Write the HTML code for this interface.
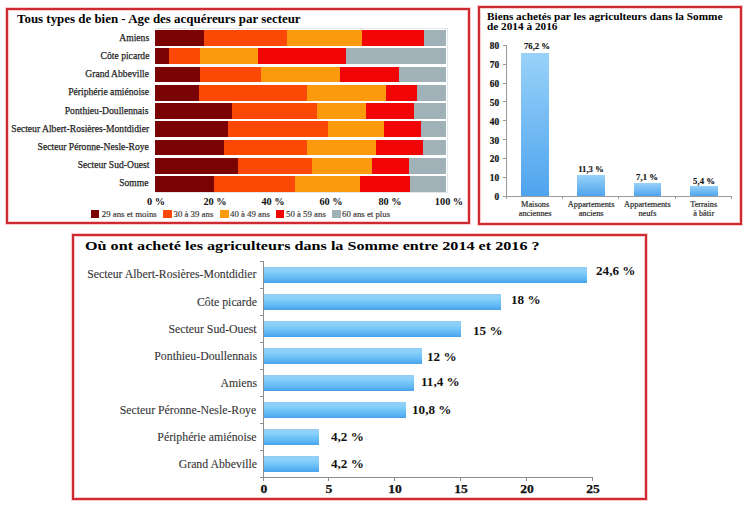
<!DOCTYPE html>
<html><head><meta charset="utf-8"><style>
html,body{margin:0;padding:0;background:#fff;}
body{width:747px;height:508px;position:relative;overflow:hidden;font-family:"Liberation Serif", serif;}
.ab{position:absolute;}
.box{position:absolute;border:2px solid #cf2a30;box-sizing:border-box;box-shadow:0 0 0 1px rgba(240,130,130,0.4), inset 0 0 0 1px rgba(240,130,130,0.4);}
.t{position:absolute;white-space:nowrap;line-height:1;}
.seg{position:absolute;}
</style></head><body>

<div class="box" style="left:6px;top:7.8px;width:464px;height:216.2px;"></div>
<div class="box" style="left:478px;top:6.2px;width:264px;height:218.9px;"></div>
<div class="box" style="left:72.4px;top:233.8px;width:574.3px;height:266.4px;"></div>
<div class="t" style="left:16.80px;top:11.71px;font-size:13px;font-weight:bold;color:#000;transform:scaleX(0.9937);transform-origin:left 0;">Tous types de bien - Age des acquéreurs par secteur</div>
<div class="ab" style="left:155px;top:28.3px;width:293px;height:165px;border:1px solid #e2e8ea;border-left:none;box-sizing:border-box;"></div>
<div class="seg" style="left:155.20px;top:30.20px;width:290.40px;height:15.8px;background:#7a0303;"></div>
<div class="seg" style="left:204.20px;top:30.20px;width:241.40px;height:15.8px;background:#fc4805;"></div>
<div class="seg" style="left:287.10px;top:30.20px;width:158.50px;height:15.8px;background:#fb9a0c;"></div>
<div class="seg" style="left:362.20px;top:30.20px;width:83.40px;height:15.8px;background:#f20505;"></div>
<div class="seg" style="left:423.90px;top:30.20px;width:21.70px;height:15.8px;background:#a0b2b8;"></div>
<div class="t" style="right:598.00px;top:31.64px;font-size:11.3px;font-weight:normal;color:#222;transform:scaleX(0.8500);transform-origin:right 0;-webkit-text-stroke:0.25px #222;">Amiens</div>
<div class="seg" style="left:155.20px;top:48.43px;width:290.40px;height:15.8px;background:#7a0303;"></div>
<div class="seg" style="left:168.70px;top:48.43px;width:276.90px;height:15.8px;background:#fc4805;"></div>
<div class="seg" style="left:200.20px;top:48.43px;width:245.40px;height:15.8px;background:#fb9a0c;"></div>
<div class="seg" style="left:258.00px;top:48.43px;width:187.60px;height:15.8px;background:#f20505;"></div>
<div class="seg" style="left:346.20px;top:48.43px;width:99.40px;height:15.8px;background:#a0b2b8;"></div>
<div class="t" style="right:598.00px;top:49.87px;font-size:11.3px;font-weight:normal;color:#222;transform:scaleX(0.8500);transform-origin:right 0;-webkit-text-stroke:0.25px #222;">Côte picarde</div>
<div class="seg" style="left:155.20px;top:66.66px;width:290.40px;height:15.8px;background:#7a0303;"></div>
<div class="seg" style="left:199.80px;top:66.66px;width:245.80px;height:15.8px;background:#fc4805;"></div>
<div class="seg" style="left:261.00px;top:66.66px;width:184.60px;height:15.8px;background:#fb9a0c;"></div>
<div class="seg" style="left:339.60px;top:66.66px;width:106.00px;height:15.8px;background:#f20505;"></div>
<div class="seg" style="left:399.00px;top:66.66px;width:46.60px;height:15.8px;background:#a0b2b8;"></div>
<div class="t" style="right:598.00px;top:68.10px;font-size:11.3px;font-weight:normal;color:#222;transform:scaleX(0.8500);transform-origin:right 0;-webkit-text-stroke:0.25px #222;">Grand Abbeville</div>
<div class="seg" style="left:155.20px;top:84.89px;width:290.40px;height:15.8px;background:#7a0303;"></div>
<div class="seg" style="left:198.60px;top:84.89px;width:247.00px;height:15.8px;background:#fc4805;"></div>
<div class="seg" style="left:307.00px;top:84.89px;width:138.60px;height:15.8px;background:#fb9a0c;"></div>
<div class="seg" style="left:386.30px;top:84.89px;width:59.30px;height:15.8px;background:#f20505;"></div>
<div class="seg" style="left:416.50px;top:84.89px;width:29.10px;height:15.8px;background:#a0b2b8;"></div>
<div class="t" style="right:598.00px;top:86.33px;font-size:11.3px;font-weight:normal;color:#222;transform:scaleX(0.8500);transform-origin:right 0;-webkit-text-stroke:0.25px #222;">Périphérie amiénoise</div>
<div class="seg" style="left:155.20px;top:103.12px;width:290.40px;height:15.8px;background:#7a0303;"></div>
<div class="seg" style="left:231.50px;top:103.12px;width:214.10px;height:15.8px;background:#fc4805;"></div>
<div class="seg" style="left:317.00px;top:103.12px;width:128.60px;height:15.8px;background:#fb9a0c;"></div>
<div class="seg" style="left:366.00px;top:103.12px;width:79.60px;height:15.8px;background:#f20505;"></div>
<div class="seg" style="left:414.30px;top:103.12px;width:31.30px;height:15.8px;background:#a0b2b8;"></div>
<div class="t" style="right:598.00px;top:104.56px;font-size:11.3px;font-weight:normal;color:#222;transform:scaleX(0.8500);transform-origin:right 0;-webkit-text-stroke:0.25px #222;">Ponthieu-Doullennais</div>
<div class="seg" style="left:155.20px;top:121.35px;width:290.40px;height:15.8px;background:#7a0303;"></div>
<div class="seg" style="left:227.90px;top:121.35px;width:217.70px;height:15.8px;background:#fc4805;"></div>
<div class="seg" style="left:328.10px;top:121.35px;width:117.50px;height:15.8px;background:#fb9a0c;"></div>
<div class="seg" style="left:383.90px;top:121.35px;width:61.70px;height:15.8px;background:#f20505;"></div>
<div class="seg" style="left:420.90px;top:121.35px;width:24.70px;height:15.8px;background:#a0b2b8;"></div>
<div class="t" style="right:598.00px;top:122.79px;font-size:11.3px;font-weight:normal;color:#222;transform:scaleX(0.8500);transform-origin:right 0;-webkit-text-stroke:0.25px #222;">Secteur Albert-Rosières-Montdidier</div>
<div class="seg" style="left:155.20px;top:139.58px;width:290.40px;height:15.8px;background:#7a0303;"></div>
<div class="seg" style="left:223.90px;top:139.58px;width:221.70px;height:15.8px;background:#fc4805;"></div>
<div class="seg" style="left:307.00px;top:139.58px;width:138.60px;height:15.8px;background:#fb9a0c;"></div>
<div class="seg" style="left:376.30px;top:139.58px;width:69.30px;height:15.8px;background:#f20505;"></div>
<div class="seg" style="left:422.50px;top:139.58px;width:23.10px;height:15.8px;background:#a0b2b8;"></div>
<div class="t" style="right:598.00px;top:141.02px;font-size:11.3px;font-weight:normal;color:#222;transform:scaleX(0.8500);transform-origin:right 0;-webkit-text-stroke:0.25px #222;">Secteur Péronne-Nesle-Roye</div>
<div class="seg" style="left:155.20px;top:157.81px;width:290.40px;height:15.8px;background:#7a0303;"></div>
<div class="seg" style="left:238.40px;top:157.81px;width:207.20px;height:15.8px;background:#fc4805;"></div>
<div class="seg" style="left:311.60px;top:157.81px;width:134.00px;height:15.8px;background:#fb9a0c;"></div>
<div class="seg" style="left:372.30px;top:157.81px;width:73.30px;height:15.8px;background:#f20505;"></div>
<div class="seg" style="left:409.40px;top:157.81px;width:36.20px;height:15.8px;background:#a0b2b8;"></div>
<div class="t" style="right:598.00px;top:159.25px;font-size:11.3px;font-weight:normal;color:#222;transform:scaleX(0.8500);transform-origin:right 0;-webkit-text-stroke:0.25px #222;">Secteur Sud-Ouest</div>
<div class="seg" style="left:155.20px;top:176.04px;width:290.40px;height:15.8px;background:#7a0303;"></div>
<div class="seg" style="left:213.90px;top:176.04px;width:231.70px;height:15.8px;background:#fc4805;"></div>
<div class="seg" style="left:295.00px;top:176.04px;width:150.60px;height:15.8px;background:#fb9a0c;"></div>
<div class="seg" style="left:359.60px;top:176.04px;width:86.00px;height:15.8px;background:#f20505;"></div>
<div class="seg" style="left:410.00px;top:176.04px;width:35.60px;height:15.8px;background:#a0b2b8;"></div>
<div class="t" style="right:598.00px;top:177.48px;font-size:11.3px;font-weight:normal;color:#222;transform:scaleX(0.8500);transform-origin:right 0;-webkit-text-stroke:0.25px #222;">Somme</div>
<div class="t" style="left:56.20px;width:200px;text-align:center;top:195.82px;font-size:11.2px;font-weight:bold;color:#111;transform:scaleX(0.9200);transform-origin:center 0;">0 %</div>
<div class="t" style="left:115.00px;width:200px;text-align:center;top:195.82px;font-size:11.2px;font-weight:bold;color:#111;transform:scaleX(0.9200);transform-origin:center 0;">20 %</div>
<div class="t" style="left:172.55px;width:200px;text-align:center;top:195.82px;font-size:11.2px;font-weight:bold;color:#111;transform:scaleX(0.9200);transform-origin:center 0;">40 %</div>
<div class="t" style="left:231.25px;width:200px;text-align:center;top:195.82px;font-size:11.2px;font-weight:bold;color:#111;transform:scaleX(0.9200);transform-origin:center 0;">60 %</div>
<div class="t" style="left:289.75px;width:200px;text-align:center;top:195.82px;font-size:11.2px;font-weight:bold;color:#111;transform:scaleX(0.9200);transform-origin:center 0;">80 %</div>
<div class="t" style="left:348.90px;width:200px;text-align:center;top:195.82px;font-size:11.2px;font-weight:bold;color:#111;transform:scaleX(0.9200);transform-origin:center 0;">100 %</div>
<div class="seg" style="left:90.6px;top:209.8px;width:8.3px;height:8.3px;background:#7a0303;"></div>
<div class="t" style="left:101.80px;top:209.63px;font-size:8.8px;font-weight:normal;color:#333;-webkit-text-stroke:0.15px #333;">29 ans et moins</div>
<div class="seg" style="left:163.3px;top:209.8px;width:8.3px;height:8.3px;background:#fc4805;"></div>
<div class="t" style="left:173.50px;top:209.63px;font-size:8.8px;font-weight:normal;color:#333;-webkit-text-stroke:0.15px #333;">30 à 39 ans</div>
<div class="seg" style="left:220.3px;top:209.8px;width:8.3px;height:8.3px;background:#fb9a0c;"></div>
<div class="t" style="left:230.00px;top:209.63px;font-size:8.8px;font-weight:normal;color:#333;-webkit-text-stroke:0.15px #333;">40 à 49 ans</div>
<div class="seg" style="left:276.0px;top:209.8px;width:8.3px;height:8.3px;background:#f20505;"></div>
<div class="t" style="left:286.00px;top:209.63px;font-size:8.8px;font-weight:normal;color:#333;-webkit-text-stroke:0.15px #333;">50 à 59 ans</div>
<div class="seg" style="left:332.3px;top:209.8px;width:8.3px;height:8.3px;background:#a0b2b8;"></div>
<div class="t" style="left:342.00px;top:209.63px;font-size:8.8px;font-weight:normal;color:#333;-webkit-text-stroke:0.15px #333;">60 ans et plus</div>
<div class="t" style="left:487.30px;top:11.91px;font-size:10.5px;font-weight:bold;color:#000;transform:scaleX(1.0730);transform-origin:left 0;">Biens achetés par les agriculteurs dans la Somme</div>
<div class="t" style="left:487.30px;top:22.21px;font-size:10.5px;font-weight:bold;color:#000;transform:scaleX(1.0730);transform-origin:left 0;">de 2014 à 2016</div>
<div class="ab" style="left:506px;top:45.32px;width:1px;height:150.88px;background:#9a9a9a;"></div>
<div class="ab" style="left:503px;top:195.70px;width:3.5px;height:1px;background:#9a9a9a;"></div>
<div class="t" style="right:247.80px;top:193.13px;font-size:9.4px;font-weight:bold;color:#111;-webkit-text-stroke:0.2px #111;">0</div>
<div class="ab" style="left:503px;top:176.84px;width:3.5px;height:1px;background:#9a9a9a;"></div>
<div class="t" style="right:247.80px;top:174.27px;font-size:9.4px;font-weight:bold;color:#111;-webkit-text-stroke:0.2px #111;">10</div>
<div class="ab" style="left:503px;top:157.98px;width:3.5px;height:1px;background:#9a9a9a;"></div>
<div class="t" style="right:247.80px;top:155.41px;font-size:9.4px;font-weight:bold;color:#111;-webkit-text-stroke:0.2px #111;">20</div>
<div class="ab" style="left:503px;top:139.12px;width:3.5px;height:1px;background:#9a9a9a;"></div>
<div class="t" style="right:247.80px;top:136.55px;font-size:9.4px;font-weight:bold;color:#111;-webkit-text-stroke:0.2px #111;">30</div>
<div class="ab" style="left:503px;top:120.26px;width:3.5px;height:1px;background:#9a9a9a;"></div>
<div class="t" style="right:247.80px;top:117.69px;font-size:9.4px;font-weight:bold;color:#111;-webkit-text-stroke:0.2px #111;">40</div>
<div class="ab" style="left:503px;top:101.40px;width:3.5px;height:1px;background:#9a9a9a;"></div>
<div class="t" style="right:247.80px;top:98.83px;font-size:9.4px;font-weight:bold;color:#111;-webkit-text-stroke:0.2px #111;">50</div>
<div class="ab" style="left:503px;top:82.54px;width:3.5px;height:1px;background:#9a9a9a;"></div>
<div class="t" style="right:247.80px;top:79.97px;font-size:9.4px;font-weight:bold;color:#111;-webkit-text-stroke:0.2px #111;">60</div>
<div class="ab" style="left:503px;top:63.68px;width:3.5px;height:1px;background:#9a9a9a;"></div>
<div class="t" style="right:247.80px;top:61.11px;font-size:9.4px;font-weight:bold;color:#111;-webkit-text-stroke:0.2px #111;">70</div>
<div class="ab" style="left:503px;top:44.82px;width:3.5px;height:1px;background:#9a9a9a;"></div>
<div class="t" style="right:247.80px;top:42.25px;font-size:9.4px;font-weight:bold;color:#111;-webkit-text-stroke:0.2px #111;">80</div>
<div class="ab" style="left:504.5px;top:195.7px;width:227px;height:1px;background:#9a9a9a;"></div>
<div class="ab" style="left:506.00px;top:196.2px;width:1px;height:3px;background:#9a9a9a;"></div>
<div class="ab" style="left:562.10px;top:196.2px;width:1px;height:3px;background:#9a9a9a;"></div>
<div class="ab" style="left:618.30px;top:196.2px;width:1px;height:3px;background:#9a9a9a;"></div>
<div class="ab" style="left:674.50px;top:196.2px;width:1px;height:3px;background:#9a9a9a;"></div>
<div class="ab" style="left:730.70px;top:196.2px;width:1px;height:3px;background:#9a9a9a;"></div>
<div class="ab" style="left:521.3px;top:52.94px;width:27.60px;height:143.26px;background:linear-gradient(#98d2f9,#4fa4ee);"></div>
<div class="t" style="left:436.95px;width:200px;text-align:center;top:41.96px;font-size:9.0px;font-weight:bold;color:#111;transform:scaleX(0.9700);transform-origin:center 0;-webkit-text-stroke:0.15px #111;">76,2 %</div>
<div class="t" style="left:435.10px;width:200px;text-align:center;top:200.55px;font-size:8.3px;font-weight:normal;color:#2a2a2a;-webkit-text-stroke:0.2px #2a2a2a;">Maisons</div>
<div class="t" style="left:435.10px;width:200px;text-align:center;top:209.55px;font-size:8.3px;font-weight:normal;color:#2a2a2a;-webkit-text-stroke:0.2px #2a2a2a;">anciennes</div>
<div class="ab" style="left:577.2px;top:174.96px;width:27.90px;height:21.24px;background:linear-gradient(#98d2f9,#4fa4ee);"></div>
<div class="t" style="left:490.70px;width:200px;text-align:center;top:165.46px;font-size:9.0px;font-weight:bold;color:#111;transform:scaleX(0.9700);transform-origin:center 0;-webkit-text-stroke:0.15px #111;">11,3 %</div>
<div class="t" style="left:491.15px;width:200px;text-align:center;top:200.55px;font-size:8.3px;font-weight:normal;color:#2a2a2a;-webkit-text-stroke:0.2px #2a2a2a;">Appartements</div>
<div class="t" style="left:491.15px;width:200px;text-align:center;top:209.55px;font-size:8.3px;font-weight:normal;color:#2a2a2a;-webkit-text-stroke:0.2px #2a2a2a;">anciens</div>
<div class="ab" style="left:633.5px;top:182.85px;width:27.80px;height:13.35px;background:linear-gradient(#98d2f9,#4fa4ee);"></div>
<div class="t" style="left:546.50px;width:200px;text-align:center;top:172.56px;font-size:9.0px;font-weight:bold;color:#111;transform:scaleX(0.9700);transform-origin:center 0;-webkit-text-stroke:0.15px #111;">7,1 %</div>
<div class="t" style="left:547.40px;width:200px;text-align:center;top:200.55px;font-size:8.3px;font-weight:normal;color:#2a2a2a;-webkit-text-stroke:0.2px #2a2a2a;">Appartements</div>
<div class="t" style="left:547.40px;width:200px;text-align:center;top:209.55px;font-size:8.3px;font-weight:normal;color:#2a2a2a;-webkit-text-stroke:0.2px #2a2a2a;">neufs</div>
<div class="ab" style="left:689.8px;top:186.05px;width:27.80px;height:10.15px;background:linear-gradient(#98d2f9,#4fa4ee);"></div>
<div class="t" style="left:603.50px;width:200px;text-align:center;top:176.86px;font-size:9.0px;font-weight:bold;color:#111;transform:scaleX(0.9700);transform-origin:center 0;-webkit-text-stroke:0.15px #111;">5,4 %</div>
<div class="t" style="left:603.70px;width:200px;text-align:center;top:200.55px;font-size:8.3px;font-weight:normal;color:#2a2a2a;-webkit-text-stroke:0.2px #2a2a2a;">Terrains</div>
<div class="t" style="left:603.70px;width:200px;text-align:center;top:209.55px;font-size:8.3px;font-weight:normal;color:#2a2a2a;-webkit-text-stroke:0.2px #2a2a2a;">à bâtir</div>
<div class="t" style="left:85.40px;top:239.60px;font-size:12.9px;font-weight:bold;color:#000;transform:scaleX(1.2531);transform-origin:left 0;">Où ont acheté les agriculteurs dans la Somme entre 2014 et 2016 ?</div>
<div class="ab" style="left:262.5px;top:261px;width:1px;height:217.00px;background:#8c8c8c;"></div>
<div class="ab" style="left:262.5px;top:477.0px;width:330.50px;height:1px;background:#8c8c8c;"></div>
<div class="ab" style="left:259.80px;top:260.70px;width:3px;height:1px;background:#8c8c8c;"></div>
<div class="ab" style="left:259.80px;top:287.77px;width:3px;height:1px;background:#8c8c8c;"></div>
<div class="ab" style="left:259.80px;top:314.84px;width:3px;height:1px;background:#8c8c8c;"></div>
<div class="ab" style="left:259.80px;top:341.91px;width:3px;height:1px;background:#8c8c8c;"></div>
<div class="ab" style="left:259.80px;top:368.98px;width:3px;height:1px;background:#8c8c8c;"></div>
<div class="ab" style="left:259.80px;top:396.05px;width:3px;height:1px;background:#8c8c8c;"></div>
<div class="ab" style="left:259.80px;top:423.12px;width:3px;height:1px;background:#8c8c8c;"></div>
<div class="ab" style="left:259.80px;top:450.19px;width:3px;height:1px;background:#8c8c8c;"></div>
<div class="ab" style="left:259.80px;top:477.26px;width:3px;height:1px;background:#8c8c8c;"></div>
<div class="ab" style="left:262.50px;top:477.5px;width:1px;height:3.5px;background:#8c8c8c;"></div>
<div class="t" style="left:163.50px;width:200px;text-align:center;top:483.31px;font-size:12.4px;font-weight:bold;color:#111;transform:scaleX(1.1000);transform-origin:center 0;-webkit-text-stroke:0.25px #111;">0</div>
<div class="ab" style="left:328.35px;top:477.5px;width:1px;height:3.5px;background:#8c8c8c;"></div>
<div class="t" style="left:229.35px;width:200px;text-align:center;top:483.31px;font-size:12.4px;font-weight:bold;color:#111;transform:scaleX(1.1000);transform-origin:center 0;-webkit-text-stroke:0.25px #111;">5</div>
<div class="ab" style="left:394.20px;top:477.5px;width:1px;height:3.5px;background:#8c8c8c;"></div>
<div class="t" style="left:295.20px;width:200px;text-align:center;top:483.31px;font-size:12.4px;font-weight:bold;color:#111;transform:scaleX(1.1000);transform-origin:center 0;-webkit-text-stroke:0.25px #111;">10</div>
<div class="ab" style="left:460.05px;top:477.5px;width:1px;height:3.5px;background:#8c8c8c;"></div>
<div class="t" style="left:361.05px;width:200px;text-align:center;top:483.31px;font-size:12.4px;font-weight:bold;color:#111;transform:scaleX(1.1000);transform-origin:center 0;-webkit-text-stroke:0.25px #111;">15</div>
<div class="ab" style="left:525.90px;top:477.5px;width:1px;height:3.5px;background:#8c8c8c;"></div>
<div class="t" style="left:426.90px;width:200px;text-align:center;top:483.31px;font-size:12.4px;font-weight:bold;color:#111;transform:scaleX(1.1000);transform-origin:center 0;-webkit-text-stroke:0.25px #111;">20</div>
<div class="ab" style="left:591.75px;top:477.5px;width:1px;height:3.5px;background:#8c8c8c;"></div>
<div class="t" style="left:492.75px;width:200px;text-align:center;top:483.31px;font-size:12.4px;font-weight:bold;color:#111;transform:scaleX(1.1000);transform-origin:center 0;-webkit-text-stroke:0.25px #111;">25</div>
<div class="ab" style="left:263.50px;top:267.00px;width:323.98px;height:15.5px;background:linear-gradient(#94cdf3,#8ad2fb 25%,#64bbf5 68%,#48a2ec);"></div>
<div class="t" style="right:490.30px;top:269.44px;font-size:11.6px;font-weight:normal;color:#333;transform:scaleX(1.0170);transform-origin:right 0;-webkit-text-stroke:0.1px #333;">Secteur Albert-Rosières-Montdidier</div>
<div class="t" style="left:596.20px;top:264.51px;font-size:12.4px;font-weight:bold;color:#111;transform:scaleX(1.0600);transform-origin:left 0;">24,6 %</div>
<div class="ab" style="left:263.50px;top:294.07px;width:237.06px;height:15.5px;background:linear-gradient(#94cdf3,#8ad2fb 25%,#64bbf5 68%,#48a2ec);"></div>
<div class="t" style="right:490.30px;top:296.50px;font-size:11.6px;font-weight:normal;color:#333;transform:scaleX(1.0170);transform-origin:right 0;-webkit-text-stroke:0.1px #333;">Côte picarde</div>
<div class="t" style="left:510.60px;top:294.31px;font-size:12.4px;font-weight:bold;color:#111;transform:scaleX(1.0600);transform-origin:left 0;">18 %</div>
<div class="ab" style="left:263.50px;top:321.14px;width:197.55px;height:15.5px;background:linear-gradient(#94cdf3,#8ad2fb 25%,#64bbf5 68%,#48a2ec);"></div>
<div class="t" style="right:490.30px;top:323.57px;font-size:11.6px;font-weight:normal;color:#333;transform:scaleX(1.0170);transform-origin:right 0;-webkit-text-stroke:0.1px #333;">Secteur Sud-Ouest</div>
<div class="t" style="left:473.10px;top:324.92px;font-size:12.4px;font-weight:bold;color:#111;transform:scaleX(1.0600);transform-origin:left 0;">15 %</div>
<div class="ab" style="left:263.50px;top:348.21px;width:158.04px;height:15.5px;background:linear-gradient(#94cdf3,#8ad2fb 25%,#64bbf5 68%,#48a2ec);"></div>
<div class="t" style="right:490.30px;top:350.65px;font-size:11.6px;font-weight:normal;color:#333;transform:scaleX(1.0170);transform-origin:right 0;-webkit-text-stroke:0.1px #333;">Ponthieu-Doullennais</div>
<div class="t" style="left:427.00px;top:350.62px;font-size:12.4px;font-weight:bold;color:#111;transform:scaleX(1.0600);transform-origin:left 0;">12 %</div>
<div class="ab" style="left:263.50px;top:375.28px;width:150.14px;height:15.5px;background:linear-gradient(#94cdf3,#8ad2fb 25%,#64bbf5 68%,#48a2ec);"></div>
<div class="t" style="right:490.30px;top:377.71px;font-size:11.6px;font-weight:normal;color:#333;transform:scaleX(1.0170);transform-origin:right 0;-webkit-text-stroke:0.1px #333;">Amiens</div>
<div class="t" style="left:421.40px;top:376.31px;font-size:12.4px;font-weight:bold;color:#111;transform:scaleX(1.0600);transform-origin:left 0;">11,4 %</div>
<div class="ab" style="left:263.50px;top:402.35px;width:142.24px;height:15.5px;background:linear-gradient(#94cdf3,#8ad2fb 25%,#64bbf5 68%,#48a2ec);"></div>
<div class="t" style="right:490.30px;top:404.79px;font-size:11.6px;font-weight:normal;color:#333;transform:scaleX(1.0170);transform-origin:right 0;-webkit-text-stroke:0.1px #333;">Secteur Péronne-Nesle-Roye</div>
<div class="t" style="left:412.00px;top:403.92px;font-size:12.4px;font-weight:bold;color:#111;transform:scaleX(1.0600);transform-origin:left 0;">10,8 %</div>
<div class="ab" style="left:263.50px;top:429.42px;width:55.31px;height:15.5px;background:linear-gradient(#94cdf3,#8ad2fb 25%,#64bbf5 68%,#48a2ec);"></div>
<div class="t" style="right:490.30px;top:431.86px;font-size:11.6px;font-weight:normal;color:#333;transform:scaleX(1.0170);transform-origin:right 0;-webkit-text-stroke:0.1px #333;">Périphérie amiénoise</div>
<div class="t" style="left:330.60px;top:430.81px;font-size:12.4px;font-weight:bold;color:#111;transform:scaleX(1.0600);transform-origin:left 0;">4,2 %</div>
<div class="ab" style="left:263.50px;top:456.49px;width:55.31px;height:15.5px;background:linear-gradient(#94cdf3,#8ad2fb 25%,#64bbf5 68%,#48a2ec);"></div>
<div class="t" style="right:490.30px;top:458.93px;font-size:11.6px;font-weight:normal;color:#333;transform:scaleX(1.0170);transform-origin:right 0;-webkit-text-stroke:0.1px #333;">Grand Abbeville</div>
<div class="t" style="left:330.60px;top:457.81px;font-size:12.4px;font-weight:bold;color:#111;transform:scaleX(1.0600);transform-origin:left 0;">4,2 %</div>
</body></html>
